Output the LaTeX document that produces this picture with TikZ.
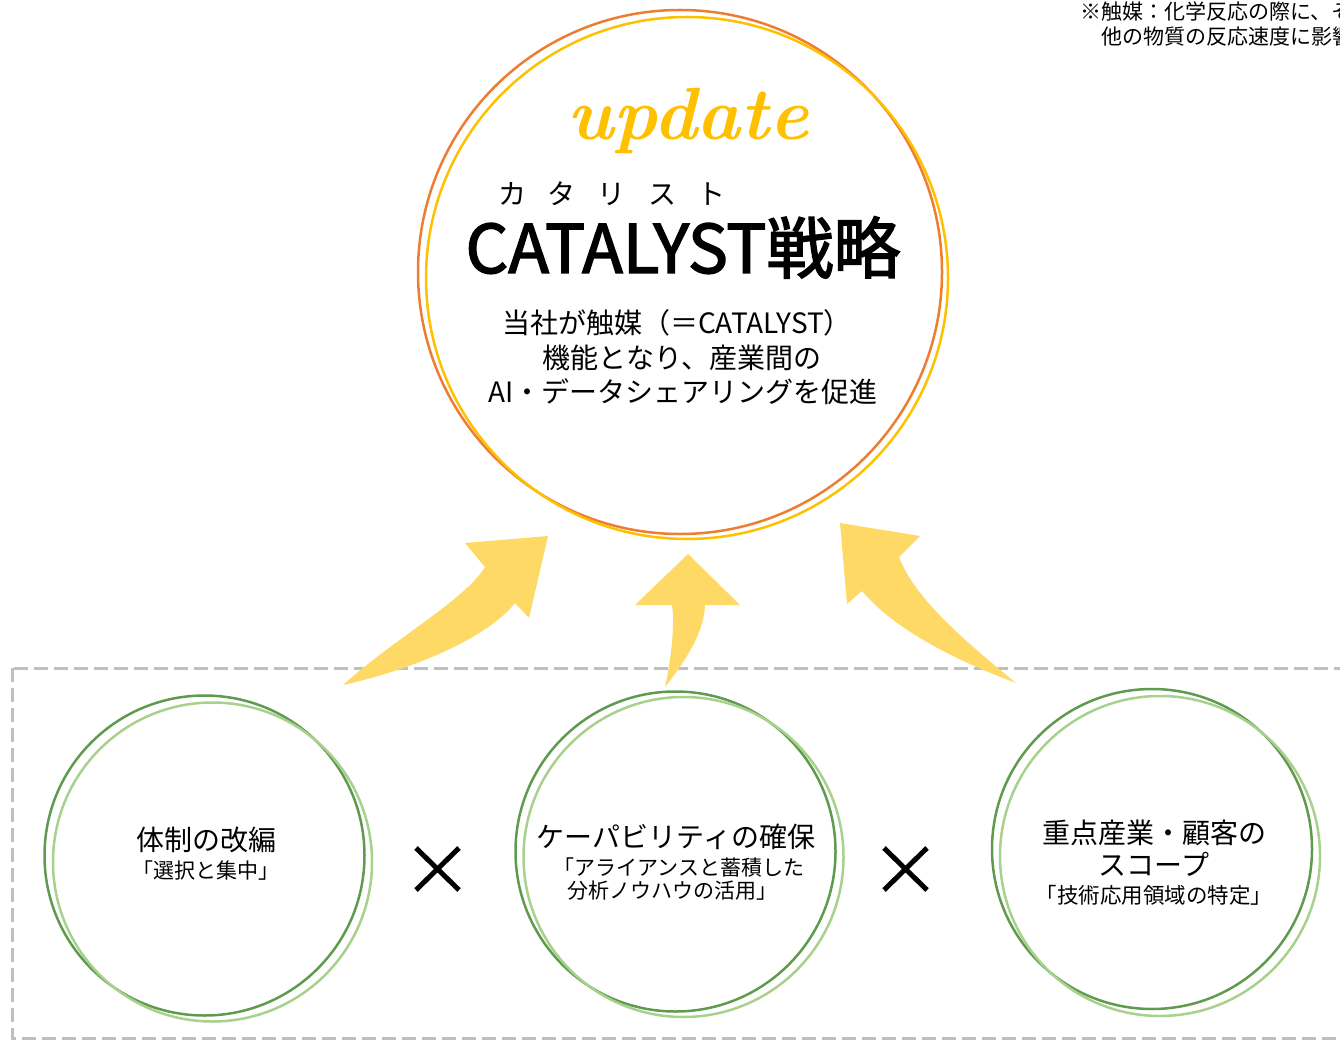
\documentclass[tikz,border=0pt]{standalone}
\usepackage{fontspec}
\newfontfamily\cjk{Noto Sans CJK JP}
\newfontfamily\cjkmed[FakeBold=2.2]{Noto Sans CJK JP}
\definecolor{corange}{HTML}{ED7D31}
\definecolor{cyellow}{HTML}{FFC000}
\definecolor{carrow}{HTML}{FFD966}
\definecolor{gdark}{HTML}{5F9B4F}
\definecolor{glight}{HTML}{A9D18E}
\definecolor{dashgray}{HTML}{BFBFBF}
\tikzset{
  ring/.style={draw, line width=2.5pt, fill=none},
  bigarrow/.style={fill=carrow, draw=none},
  txt/.style={inner sep=0pt, outer sep=0pt, anchor=base, font=\cjk},
  crossline/.style={line width=5pt, black},
}
\begin{document}
\begin{tikzpicture}[x=1pt,y=-1pt]
\useasboundingbox (0,0) rectangle (1340,1040);
% dashed frame
\draw[dashgray, line width=3pt, dash pattern=on 14pt off 6pt] (12,668) rectangle (1380,1038);
% top circles
\draw[ring, corange] (680,272) circle (262);
\draw[ring, cyellow] (687,278) circle (261);
% texts in top circle
\node[txt, font=\fontsize{74}{74}\selectfont\bfseries\itshape, text=cyellow] (upd) at (688,140) {update};
\node[txt, font=\cjk\fontsize{28}{28}\selectfont] (kana) at (612,205) {カ\hspace{22pt}タ\hspace{22pt}リ\hspace{22pt}ス\hspace{22pt}ト};
\node[txt, font=\cjkmed\fontsize{67}{67}\selectfont] (title) at (683,273) {CATALYST戦略};
\node[txt, font=\cjk\fontsize{28}{28}\selectfont] (l1) at (677,333) {当社が触媒（＝CATALYST）};
\node[txt, font=\cjk\fontsize{28}{28}\selectfont] (l2) at (682,368) {機能となり、産業間の};
\node[txt, font=\cjk\fontsize{28}{28}\selectfont] (l3) at (683,402) {AI・データシェアリングを促進};
% note top right (cut off at the right edge, as in the reference)
\node[txt, anchor=base west, font=\cjk\fontsize{21}{21}\selectfont] (n1) at (1080,20) {※触媒：化学反応の際に、そ};
\node[txt, anchor=base west, font=\cjk\fontsize{21}{21}\selectfont] (n2) at (1101,45) {他の物質の反応速度に影響};
% arrows
\path[bigarrow] (343,685) .. controls (395,638) and (465,600) .. (485,567) -- (465,543) -- (548,536) -- (529,618) -- (515,603) .. controls (490,635) and (420,668) .. cycle;
\path[bigarrow] (688,554) -- (740,605) -- (705,605) .. controls (704,630) and (690,655) .. (665,687) .. controls (671,660) and (675,625) .. (672,605) -- (635,605) -- cycle;
\path[bigarrow] (840,523) -- (920,536) -- (899,557) .. controls (915,600) and (970,645) .. (1016,683) .. controls (955,660) and (895,630) .. (862,591) -- (847,604) -- cycle;
% green circles
\draw[ring, gdark] (204.5,855.5) circle (160);
\draw[ring, glight] (212.5,862) circle (159.5);
\draw[ring, gdark] (675.5,851.5) circle (160);
\draw[ring, glight] (683.5,857) circle (160);
\draw[ring, gdark] (1152,849) circle (160);
\draw[ring, glight] (1160,856) circle (160);
% green circle texts
\node[txt, font=\cjk\fontsize{28}{28}\selectfont] (a1) at (206,850) {体制の改編};
\node[txt, font=\cjk\fontsize{21}{21}\selectfont] (a2) at (206,878) {「選択と集中」};
\node[txt, font=\cjk\fontsize{28}{28}\selectfont] (b1) at (676,847) {ケーパビリティの確保};
\node[txt, font=\cjk\fontsize{21}{21}\selectfont] (b2) at (679,875) {「アライアンスと蓄積した};
\node[txt, font=\cjk\fontsize{21}{21}\selectfont] (b3) at (672,898) {分析ノウハウの活用」};
\node[txt, font=\cjk\fontsize{28}{28}\selectfont] (c1) at (1154,843) {重点産業・顧客の};
\node[txt, font=\cjk\fontsize{28}{28}\selectfont] (c2) at (1154,875) {スコープ};
\node[txt, font=\cjk\fontsize{21.5}{21.5}\selectfont] (c3) at (1154,903) {「技術応用領域の特定」};
% crosses
\draw[crossline] (416,848) -- (459,890) (459,848) -- (416,890);
\draw[crossline] (884,848) -- (927,890) (927,848) -- (884,890);
\end{tikzpicture}
\end{document}
